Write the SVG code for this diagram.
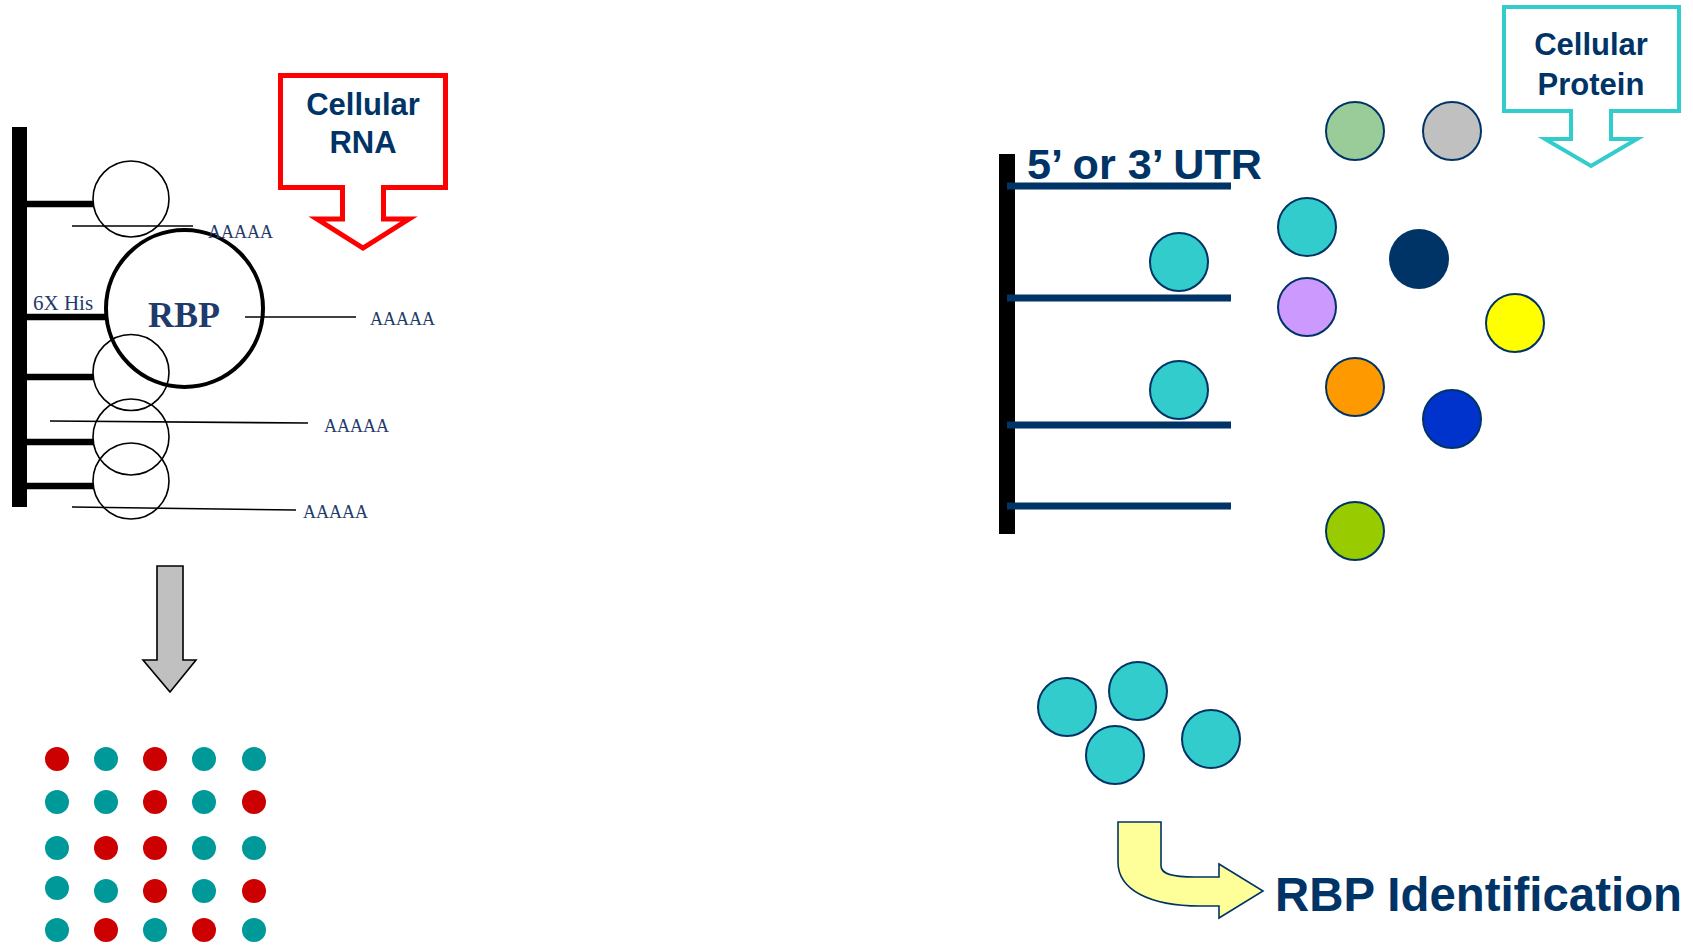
<svg xmlns="http://www.w3.org/2000/svg" width="1693" height="945" viewBox="0 0 1693 945">
  <style>
    .sans { font-family: "Liberation Sans", Arial, sans-serif; font-weight: bold; fill: #003366; }
    .serif { font-family: "Liberation Serif", "Times New Roman", serif; fill: #1F3B6B; }
    .poly { font-size: 18px; }
    .bead { fill: none; stroke: #000; stroke-width: 1.6; }
    .thin { stroke: #000; stroke-width: 1.6; fill: none; }
    .arm { stroke: #000; stroke-width: 6.5; }
    .utr { stroke: #003366; stroke-width: 7; }
    .prot { stroke: #003366; stroke-width: 2; }
    .red { fill: #CC0000; }
    .teal { fill: #009999; }
  </style>

  <rect width="1693" height="945" fill="#fff"/>

  <!-- ===== Left panel: RBP bound to beads, pulling down cellular RNA ===== -->
  <g id="rna-callout">
    <polygon points="280.5,75.5 445.5,75.5 445.5,187.5 383.5,187.5 383.5,219 409,219 363,248 317,219 342.5,219 342.5,187.5 280.5,187.5"
             fill="#fff" stroke="#FF0000" stroke-width="5"/>
    <text class="sans" x="363" y="115" font-size="31" text-anchor="middle">Cellular</text>
    <text class="sans" x="363" y="153" font-size="31" text-anchor="middle">RNA</text>
  </g>

  <g id="bead-support">
    <rect x="12" y="127" width="15" height="380" fill="#000"/>
    <line class="arm" x1="27" y1="204" x2="93" y2="204"/>
    <line class="arm" x1="27" y1="317" x2="106" y2="317"/>
    <line class="arm" x1="27" y1="377" x2="93" y2="377"/>
    <line class="arm" x1="27" y1="442" x2="93" y2="442"/>
    <line class="arm" x1="27" y1="486" x2="93" y2="486"/>
    <text class="serif" x="33" y="310" font-size="21">6X His</text>
  </g>

  <g id="bead-1"><circle class="bead" cx="131" cy="199" r="38"/></g>
  <g id="rbp">
    <circle cx="184.5" cy="308.5" r="78.5" fill="none" stroke="#000" stroke-width="4"/>
    <text class="serif" x="184" y="327" font-size="36" font-weight="bold" text-anchor="middle" fill="#003366">RBP</text>
  </g>
  <g id="bead-2"><circle class="bead" cx="131" cy="372.5" r="38"/></g>
  <g id="bead-3"><circle class="bead" cx="131" cy="437" r="38"/></g>
  <g id="bead-4"><circle class="bead" cx="131" cy="481" r="38"/></g>

  <g id="mrna-1">
    <line class="thin" x1="72" y1="226" x2="193" y2="226"/>
    <text class="serif poly" x="208" y="238">AAAAA</text>
  </g>
  <g id="mrna-2">
    <line class="thin" x1="245" y1="317" x2="356" y2="317"/>
    <text class="serif poly" x="370" y="325">AAAAA</text>
  </g>
  <g id="mrna-3">
    <line class="thin" x1="50" y1="421" x2="308" y2="423"/>
    <text class="serif poly" x="324" y="432">AAAAA</text>
  </g>
  <g id="mrna-4">
    <line class="thin" x1="72" y1="507" x2="296" y2="510"/>
    <text class="serif poly" x="303" y="518">AAAAA</text>
  </g>

  <g id="connectors">
    <!-- elution step -->
    <polygon points="157,566 183,566 183,660 196,660 170,692 143,660 157,660"
             fill="#C0C0C0" stroke="#000" stroke-width="1.6" stroke-linejoin="miter"/>
    <!-- hand-off to identification -->
    <path d="M1118,822 H1161 V866 C1161,874 1172,877 1195,877 H1219 V864 L1263,891 L1219,918 V906 H1200 C1150,906 1118,890 1118,862 Z"
          fill="#FFFF99" stroke="#003366" stroke-width="1.6" stroke-linejoin="miter"/>
  </g>

  <g id="array">
    <circle class="red"  cx="57"  cy="759" r="12"/>
    <circle class="teal" cx="106" cy="759" r="12"/>
    <circle class="red"  cx="155" cy="759" r="12"/>
    <circle class="teal" cx="204" cy="759" r="12"/>
    <circle class="teal" cx="254" cy="759" r="12"/>

    <circle class="teal" cx="57"  cy="802" r="12"/>
    <circle class="teal" cx="106" cy="802" r="12"/>
    <circle class="red"  cx="155" cy="802" r="12"/>
    <circle class="teal" cx="204" cy="802" r="12"/>
    <circle class="red"  cx="254" cy="802" r="12"/>

    <circle class="teal" cx="57"  cy="848" r="12"/>
    <circle class="red"  cx="106" cy="848" r="12"/>
    <circle class="red"  cx="155" cy="848" r="12"/>
    <circle class="teal" cx="204" cy="848" r="12"/>
    <circle class="teal" cx="254" cy="848" r="12"/>

    <circle class="teal" cx="57"  cy="888" r="12"/>
    <circle class="teal" cx="106" cy="891" r="12"/>
    <circle class="red"  cx="155" cy="891" r="12"/>
    <circle class="teal" cx="204" cy="891" r="12"/>
    <circle class="red"  cx="254" cy="891" r="12"/>

    <circle class="teal" cx="57"  cy="930" r="12"/>
    <circle class="red"  cx="106" cy="930" r="12"/>
    <circle class="teal" cx="155" cy="930" r="12"/>
    <circle class="red"  cx="204" cy="930" r="12"/>
    <circle class="teal" cx="254" cy="930" r="12"/>
  </g>

  <!-- ===== Right panel: UTR bait capturing cellular proteins ===== -->
  <g id="protein-callout">
    <polygon points="1504,7 1679,7 1679,111 1611,111 1611,139 1637,139 1591,166 1545,139 1571,139 1571,111 1504,111"
             fill="#fff" stroke="#33CCCC" stroke-width="4"/>
    <text class="sans" x="1591" y="55" font-size="31" text-anchor="middle">Cellular</text>
    <text class="sans" x="1591" y="95" font-size="31" text-anchor="middle">Protein</text>
  </g>

  <g id="utr-bait">
    <rect x="999" y="154" width="16" height="380" fill="#000"/>
    <line class="utr" x1="1007" y1="186" x2="1231" y2="186"/>
    <line class="utr" x1="1007" y1="298" x2="1231" y2="298"/>
    <line class="utr" x1="1007" y1="425" x2="1231" y2="425"/>
    <line class="utr" x1="1007" y1="506" x2="1231" y2="506"/>
    <text class="sans" x="1027" y="179" font-size="42" textLength="235" lengthAdjust="spacingAndGlyphs">5’ or 3’ UTR</text>
  </g>

  <g id="bound-protein-1"><circle class="prot" cx="1179" cy="262" r="29" fill="#33CCCC"/></g>
  <g id="bound-protein-2"><circle class="prot" cx="1179" cy="390" r="29" fill="#33CCCC"/></g>

  <g id="protein-pool">
    <circle class="prot" cx="1355" cy="131" r="29" fill="#99CC99"/>
    <circle class="prot" cx="1452" cy="131" r="29" fill="#C0C0C0"/>
    <circle class="prot" cx="1307" cy="227" r="29" fill="#33CCCC"/>
    <circle cx="1419" cy="259" r="30" fill="#003366"/>
    <circle class="prot" cx="1307" cy="307" r="29" fill="#CC99FF"/>
    <circle class="prot" cx="1515" cy="323" r="29" fill="#FFFF00"/>
    <circle class="prot" cx="1355" cy="387" r="29" fill="#FF9900"/>
    <circle class="prot" cx="1452" cy="419" r="29" fill="#0033CC"/>
    <circle class="prot" cx="1355" cy="531" r="29" fill="#99CC00"/>
  </g>

  <g id="eluted-proteins">
    <circle class="prot" cx="1067" cy="707" r="29" fill="#33CCCC"/>
    <circle class="prot" cx="1138" cy="691" r="29" fill="#33CCCC"/>
    <circle class="prot" cx="1115" cy="755" r="29" fill="#33CCCC"/>
    <circle class="prot" cx="1211" cy="739" r="29" fill="#33CCCC"/>
  </g>

  <g id="rbp-identification">
    <text class="sans" x="1275" y="911" font-size="48" textLength="407" lengthAdjust="spacingAndGlyphs">RBP Identification</text>
  </g>
</svg>
